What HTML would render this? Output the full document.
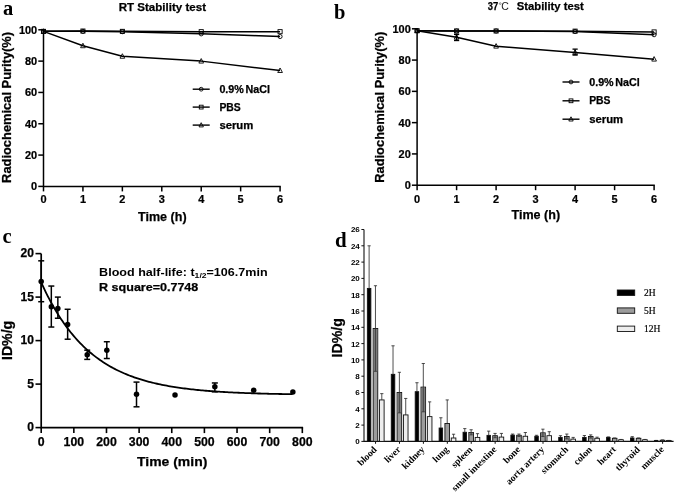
<!DOCTYPE html>
<html><head><meta charset="utf-8"><title>Stability and biodistribution</title>
<style>html,body{margin:0;padding:0;background:#fff;}body{width:675px;height:493px;overflow:hidden;font-family:"Liberation Sans",sans-serif;}svg text{white-space:pre;}</style>
</head><body>
<svg width="675" height="493" viewBox="0 0 675 493" style="display:block;filter:blur(0.35px)">
<rect width="675" height="493" fill="#fff"/>
<line x1="43.50" y1="29.80" x2="43.50" y2="187.10" stroke="#000" stroke-width="1.5" stroke-linecap="butt"/>
<line x1="43.50" y1="186.40" x2="280.78" y2="186.40" stroke="#000" stroke-width="1.5" stroke-linecap="butt"/>
<line x1="38.30" y1="186.40" x2="43.50" y2="186.40" stroke="#000" stroke-width="1.5" stroke-linecap="butt"/>
<text transform="translate(37.20,190.40) scale(0.93,1)" font-family='"Liberation Sans", sans-serif' font-size="11.8" font-weight="bold" text-anchor="end" fill="#000" stroke="#000" stroke-width="0.25" >0</text>
<line x1="38.30" y1="155.08" x2="43.50" y2="155.08" stroke="#000" stroke-width="1.5" stroke-linecap="butt"/>
<text transform="translate(37.20,159.08) scale(0.93,1)" font-family='"Liberation Sans", sans-serif' font-size="11.8" font-weight="bold" text-anchor="end" fill="#000" stroke="#000" stroke-width="0.25" >20</text>
<line x1="38.30" y1="123.76" x2="43.50" y2="123.76" stroke="#000" stroke-width="1.5" stroke-linecap="butt"/>
<text transform="translate(37.20,127.76) scale(0.93,1)" font-family='"Liberation Sans", sans-serif' font-size="11.8" font-weight="bold" text-anchor="end" fill="#000" stroke="#000" stroke-width="0.25" >40</text>
<line x1="38.30" y1="92.44" x2="43.50" y2="92.44" stroke="#000" stroke-width="1.5" stroke-linecap="butt"/>
<text transform="translate(37.20,96.44) scale(0.93,1)" font-family='"Liberation Sans", sans-serif' font-size="11.8" font-weight="bold" text-anchor="end" fill="#000" stroke="#000" stroke-width="0.25" >60</text>
<line x1="38.30" y1="61.12" x2="43.50" y2="61.12" stroke="#000" stroke-width="1.5" stroke-linecap="butt"/>
<text transform="translate(37.20,65.12) scale(0.93,1)" font-family='"Liberation Sans", sans-serif' font-size="11.8" font-weight="bold" text-anchor="end" fill="#000" stroke="#000" stroke-width="0.25" >80</text>
<line x1="38.30" y1="29.80" x2="43.50" y2="29.80" stroke="#000" stroke-width="1.5" stroke-linecap="butt"/>
<text transform="translate(37.20,33.80) scale(0.93,1)" font-family='"Liberation Sans", sans-serif' font-size="11.8" font-weight="bold" text-anchor="end" fill="#000" stroke="#000" stroke-width="0.25" >100</text>
<line x1="43.50" y1="186.40" x2="43.50" y2="191.40" stroke="#000" stroke-width="1.5" stroke-linecap="butt"/>
<text transform="translate(43.50,203.30) scale(0.93,1)" font-family='"Liberation Sans", sans-serif' font-size="11.8" font-weight="bold" text-anchor="middle" fill="#000" stroke="#000" stroke-width="0.25" >0</text>
<line x1="82.93" y1="186.40" x2="82.93" y2="191.40" stroke="#000" stroke-width="1.5" stroke-linecap="butt"/>
<text transform="translate(82.93,203.30) scale(0.93,1)" font-family='"Liberation Sans", sans-serif' font-size="11.8" font-weight="bold" text-anchor="middle" fill="#000" stroke="#000" stroke-width="0.25" >1</text>
<line x1="122.36" y1="186.40" x2="122.36" y2="191.40" stroke="#000" stroke-width="1.5" stroke-linecap="butt"/>
<text transform="translate(122.36,203.30) scale(0.93,1)" font-family='"Liberation Sans", sans-serif' font-size="11.8" font-weight="bold" text-anchor="middle" fill="#000" stroke="#000" stroke-width="0.25" >2</text>
<line x1="161.79" y1="186.40" x2="161.79" y2="191.40" stroke="#000" stroke-width="1.5" stroke-linecap="butt"/>
<text transform="translate(161.79,203.30) scale(0.93,1)" font-family='"Liberation Sans", sans-serif' font-size="11.8" font-weight="bold" text-anchor="middle" fill="#000" stroke="#000" stroke-width="0.25" >3</text>
<line x1="201.22" y1="186.40" x2="201.22" y2="191.40" stroke="#000" stroke-width="1.5" stroke-linecap="butt"/>
<text transform="translate(201.22,203.30) scale(0.93,1)" font-family='"Liberation Sans", sans-serif' font-size="11.8" font-weight="bold" text-anchor="middle" fill="#000" stroke="#000" stroke-width="0.25" >4</text>
<line x1="240.65" y1="186.40" x2="240.65" y2="191.40" stroke="#000" stroke-width="1.5" stroke-linecap="butt"/>
<text transform="translate(240.65,203.30) scale(0.93,1)" font-family='"Liberation Sans", sans-serif' font-size="11.8" font-weight="bold" text-anchor="middle" fill="#000" stroke="#000" stroke-width="0.25" >5</text>
<line x1="280.08" y1="186.40" x2="280.08" y2="191.40" stroke="#000" stroke-width="1.5" stroke-linecap="butt"/>
<text transform="translate(280.08,203.30) scale(0.93,1)" font-family='"Liberation Sans", sans-serif' font-size="11.8" font-weight="bold" text-anchor="middle" fill="#000" stroke="#000" stroke-width="0.25" >6</text>
<text x="162.30" y="220.60" font-family='"Liberation Sans", sans-serif' font-size="12.8" font-weight="bold" text-anchor="middle" fill="#000" stroke="#000" stroke-width="0.25" textLength="48.60" lengthAdjust="spacingAndGlyphs" >Time (h)</text>
<text transform="translate(10.6,107.4) rotate(-90)" font-family='"Liberation Sans", sans-serif' font-size="13" font-weight="bold" stroke="#000" stroke-width="0.25" text-anchor="middle" textLength="151" lengthAdjust="spacingAndGlyphs">Radiochemical Purity(%)</text>
<text x="118.70" y="10.60" font-family='"Liberation Sans", sans-serif' font-size="11.5" font-weight="bold" text-anchor="start" fill="#000" stroke="#000" stroke-width="0.25" textLength="87.30" lengthAdjust="spacingAndGlyphs" >RT Stability test</text>
<text x="3.00" y="14.50" font-family='"Liberation Serif", serif' font-size="20.5" font-weight="bold" text-anchor="start" fill="#000" >a</text>
<polyline points="43.50,31.37 82.93,31.37 122.36,31.68 201.22,33.87 280.08,36.53" fill="none" stroke="#000" stroke-width="1.5" stroke-linejoin="round"/>
<polyline points="43.50,31.37 82.93,31.05 122.36,31.37 201.22,31.68 280.08,31.68" fill="none" stroke="#000" stroke-width="1.5" stroke-linejoin="round"/>
<polyline points="43.50,31.37 82.93,45.77 122.36,56.27 201.22,61.12 280.08,70.52" fill="none" stroke="#000" stroke-width="1.5" stroke-linejoin="round"/>
<circle cx="43.50" cy="31.37" r="2.05" fill="none" stroke="#000" stroke-width="0.9"/>
<circle cx="82.93" cy="31.37" r="2.05" fill="none" stroke="#000" stroke-width="0.9"/>
<circle cx="122.36" cy="31.68" r="2.05" fill="none" stroke="#000" stroke-width="0.9"/>
<circle cx="201.22" cy="33.87" r="2.05" fill="none" stroke="#000" stroke-width="0.9"/>
<circle cx="280.08" cy="36.53" r="2.05" fill="none" stroke="#000" stroke-width="0.9"/>
<rect x="41.45" y="29.32" width="4.10" height="4.10" fill="none" stroke="#000" stroke-width="0.9"/>
<rect x="80.88" y="29.00" width="4.10" height="4.10" fill="none" stroke="#000" stroke-width="0.9"/>
<rect x="120.31" y="29.32" width="4.10" height="4.10" fill="none" stroke="#000" stroke-width="0.9"/>
<rect x="199.17" y="29.63" width="4.10" height="4.10" fill="none" stroke="#000" stroke-width="0.9"/>
<rect x="278.03" y="29.63" width="4.10" height="4.10" fill="none" stroke="#000" stroke-width="0.9"/>
<polygon points="43.50,28.82 41.15,33.32 45.85,33.32" fill="none" stroke="#000" stroke-width="0.9"/>
<polygon points="82.93,43.22 80.58,47.72 85.28,47.72" fill="none" stroke="#000" stroke-width="0.9"/>
<polygon points="122.36,53.72 120.01,58.22 124.71,58.22" fill="none" stroke="#000" stroke-width="0.9"/>
<polygon points="201.22,58.57 198.87,63.07 203.57,63.07" fill="none" stroke="#000" stroke-width="0.9"/>
<polygon points="280.08,67.97 277.73,72.47 282.43,72.47" fill="none" stroke="#000" stroke-width="0.9"/>
<line x1="192.70" y1="89.20" x2="209.70" y2="89.20" stroke="#000" stroke-width="1.4" stroke-linecap="butt"/>
<circle cx="201.20" cy="89.20" r="1.90" fill="none" stroke="#000" stroke-width="0.9"/>
<text x="219.40" y="92.80" font-family='"Liberation Sans", sans-serif' font-size="10" font-weight="bold" text-anchor="start" fill="#000" stroke="#000" stroke-width="0.25" textLength="50.60" lengthAdjust="spacingAndGlyphs" >0.9%<tspan dx="1.6">NaCl</tspan></text>
<line x1="192.70" y1="107.10" x2="209.70" y2="107.10" stroke="#000" stroke-width="1.4" stroke-linecap="butt"/>
<rect x="199.30" y="105.20" width="3.80" height="3.80" fill="none" stroke="#000" stroke-width="0.9"/>
<text x="219.40" y="110.70" font-family='"Liberation Sans", sans-serif' font-size="10" font-weight="bold" text-anchor="start" fill="#000" stroke="#000" stroke-width="0.25" textLength="21.30" lengthAdjust="spacingAndGlyphs" >PBS</text>
<line x1="192.70" y1="125.10" x2="209.70" y2="125.10" stroke="#000" stroke-width="1.4" stroke-linecap="butt"/>
<polygon points="201.20,122.70 199.00,126.90 203.40,126.90" fill="none" stroke="#000" stroke-width="0.9"/>
<text x="219.40" y="128.70" font-family='"Liberation Sans", sans-serif' font-size="10" font-weight="bold" text-anchor="start" fill="#000" stroke="#000" stroke-width="0.25" textLength="33.90" lengthAdjust="spacingAndGlyphs" >serum</text>
<line x1="417.10" y1="28.80" x2="417.10" y2="185.90" stroke="#000" stroke-width="1.5" stroke-linecap="butt"/>
<line x1="417.10" y1="185.20" x2="654.80" y2="185.20" stroke="#000" stroke-width="1.5" stroke-linecap="butt"/>
<line x1="411.90" y1="185.20" x2="417.10" y2="185.20" stroke="#000" stroke-width="1.5" stroke-linecap="butt"/>
<text transform="translate(410.80,189.20) scale(0.93,1)" font-family='"Liberation Sans", sans-serif' font-size="11.8" font-weight="bold" text-anchor="end" fill="#000" stroke="#000" stroke-width="0.25" >0</text>
<line x1="411.90" y1="153.92" x2="417.10" y2="153.92" stroke="#000" stroke-width="1.5" stroke-linecap="butt"/>
<text transform="translate(410.80,157.92) scale(0.93,1)" font-family='"Liberation Sans", sans-serif' font-size="11.8" font-weight="bold" text-anchor="end" fill="#000" stroke="#000" stroke-width="0.25" >20</text>
<line x1="411.90" y1="122.64" x2="417.10" y2="122.64" stroke="#000" stroke-width="1.5" stroke-linecap="butt"/>
<text transform="translate(410.80,126.64) scale(0.93,1)" font-family='"Liberation Sans", sans-serif' font-size="11.8" font-weight="bold" text-anchor="end" fill="#000" stroke="#000" stroke-width="0.25" >40</text>
<line x1="411.90" y1="91.36" x2="417.10" y2="91.36" stroke="#000" stroke-width="1.5" stroke-linecap="butt"/>
<text transform="translate(410.80,95.36) scale(0.93,1)" font-family='"Liberation Sans", sans-serif' font-size="11.8" font-weight="bold" text-anchor="end" fill="#000" stroke="#000" stroke-width="0.25" >60</text>
<line x1="411.90" y1="60.08" x2="417.10" y2="60.08" stroke="#000" stroke-width="1.5" stroke-linecap="butt"/>
<text transform="translate(410.80,64.08) scale(0.93,1)" font-family='"Liberation Sans", sans-serif' font-size="11.8" font-weight="bold" text-anchor="end" fill="#000" stroke="#000" stroke-width="0.25" >80</text>
<line x1="411.90" y1="28.80" x2="417.10" y2="28.80" stroke="#000" stroke-width="1.5" stroke-linecap="butt"/>
<text transform="translate(410.80,32.80) scale(0.93,1)" font-family='"Liberation Sans", sans-serif' font-size="11.8" font-weight="bold" text-anchor="end" fill="#000" stroke="#000" stroke-width="0.25" >100</text>
<line x1="417.10" y1="185.20" x2="417.10" y2="190.20" stroke="#000" stroke-width="1.5" stroke-linecap="butt"/>
<text transform="translate(417.10,202.80) scale(0.93,1)" font-family='"Liberation Sans", sans-serif' font-size="11.8" font-weight="bold" text-anchor="middle" fill="#000" stroke="#000" stroke-width="0.25" >0</text>
<line x1="456.60" y1="185.20" x2="456.60" y2="190.20" stroke="#000" stroke-width="1.5" stroke-linecap="butt"/>
<text transform="translate(456.60,202.80) scale(0.93,1)" font-family='"Liberation Sans", sans-serif' font-size="11.8" font-weight="bold" text-anchor="middle" fill="#000" stroke="#000" stroke-width="0.25" >1</text>
<line x1="496.10" y1="185.20" x2="496.10" y2="190.20" stroke="#000" stroke-width="1.5" stroke-linecap="butt"/>
<text transform="translate(496.10,202.80) scale(0.93,1)" font-family='"Liberation Sans", sans-serif' font-size="11.8" font-weight="bold" text-anchor="middle" fill="#000" stroke="#000" stroke-width="0.25" >2</text>
<line x1="535.60" y1="185.20" x2="535.60" y2="190.20" stroke="#000" stroke-width="1.5" stroke-linecap="butt"/>
<text transform="translate(535.60,202.80) scale(0.93,1)" font-family='"Liberation Sans", sans-serif' font-size="11.8" font-weight="bold" text-anchor="middle" fill="#000" stroke="#000" stroke-width="0.25" >3</text>
<line x1="575.10" y1="185.20" x2="575.10" y2="190.20" stroke="#000" stroke-width="1.5" stroke-linecap="butt"/>
<text transform="translate(575.10,202.80) scale(0.93,1)" font-family='"Liberation Sans", sans-serif' font-size="11.8" font-weight="bold" text-anchor="middle" fill="#000" stroke="#000" stroke-width="0.25" >4</text>
<line x1="614.60" y1="185.20" x2="614.60" y2="190.20" stroke="#000" stroke-width="1.5" stroke-linecap="butt"/>
<text transform="translate(614.60,202.80) scale(0.93,1)" font-family='"Liberation Sans", sans-serif' font-size="11.8" font-weight="bold" text-anchor="middle" fill="#000" stroke="#000" stroke-width="0.25" >5</text>
<line x1="654.10" y1="185.20" x2="654.10" y2="190.20" stroke="#000" stroke-width="1.5" stroke-linecap="butt"/>
<text transform="translate(654.10,202.80) scale(0.93,1)" font-family='"Liberation Sans", sans-serif' font-size="11.8" font-weight="bold" text-anchor="middle" fill="#000" stroke="#000" stroke-width="0.25" >6</text>
<text x="535.80" y="219.40" font-family='"Liberation Sans", sans-serif' font-size="12.8" font-weight="bold" text-anchor="middle" fill="#000" stroke="#000" stroke-width="0.25" textLength="48.60" lengthAdjust="spacingAndGlyphs" >Time (h)</text>
<text transform="translate(383.8,107.3) rotate(-90)" font-family='"Liberation Sans", sans-serif' font-size="13" font-weight="bold" stroke="#000" stroke-width="0.25" text-anchor="middle" textLength="151" lengthAdjust="spacingAndGlyphs">Radiochemical Purity(%)</text>
<text x="487.80" y="9.60" font-family='"Liberation Sans", sans-serif' font-size="11" font-weight="bold" text-anchor="start" fill="#000" stroke="#000" stroke-width="0.25" textLength="10.50" lengthAdjust="spacingAndGlyphs" >37</text>
<circle cx="500.2" cy="3.6" r="0.9" fill="none" stroke="#333" stroke-width="0.5"/>
<text x="501.20" y="9.50" font-family='"Liberation Sans", sans-serif' font-size="10.3" font-weight="normal" text-anchor="start" fill="#222" textLength="7.60" lengthAdjust="spacingAndGlyphs" >C</text>
<text x="516.70" y="9.60" font-family='"Liberation Sans", sans-serif' font-size="11.5" font-weight="bold" text-anchor="start" fill="#000" stroke="#000" stroke-width="0.25" textLength="67.10" lengthAdjust="spacingAndGlyphs" >Stability test</text>
<text x="334.00" y="18.70" font-family='"Liberation Serif", serif' font-size="20.5" font-weight="bold" text-anchor="start" fill="#000" >b</text>
<polyline points="417.10,30.68 456.60,30.99 496.10,30.99 575.10,31.46 654.10,34.74" fill="none" stroke="#000" stroke-width="1.5" stroke-linejoin="round"/>
<polyline points="417.10,30.68 456.60,30.99 496.10,30.99 575.10,31.15 654.10,31.93" fill="none" stroke="#000" stroke-width="1.5" stroke-linejoin="round"/>
<polyline points="417.10,30.68 456.60,37.25 496.10,46.16 575.10,52.42 654.10,59.14" fill="none" stroke="#000" stroke-width="1.5" stroke-linejoin="round"/>
<line x1="456.60" y1="34.43" x2="456.60" y2="40.53" stroke="#000" stroke-width="1.3" stroke-linecap="butt"/>
<line x1="454.00" y1="34.43" x2="459.20" y2="34.43" stroke="#000" stroke-width="1.3" stroke-linecap="butt"/>
<line x1="454.00" y1="40.53" x2="459.20" y2="40.53" stroke="#000" stroke-width="1.3" stroke-linecap="butt"/>
<line x1="575.10" y1="49.13" x2="575.10" y2="55.08" stroke="#000" stroke-width="1.3" stroke-linecap="butt"/>
<line x1="572.50" y1="49.13" x2="577.70" y2="49.13" stroke="#000" stroke-width="1.3" stroke-linecap="butt"/>
<line x1="572.50" y1="55.08" x2="577.70" y2="55.08" stroke="#000" stroke-width="1.3" stroke-linecap="butt"/>
<circle cx="417.10" cy="30.68" r="2.05" fill="none" stroke="#000" stroke-width="0.9"/>
<circle cx="456.60" cy="30.99" r="2.05" fill="none" stroke="#000" stroke-width="0.9"/>
<circle cx="496.10" cy="30.99" r="2.05" fill="none" stroke="#000" stroke-width="0.9"/>
<circle cx="575.10" cy="31.46" r="2.05" fill="none" stroke="#000" stroke-width="0.9"/>
<circle cx="654.10" cy="34.74" r="2.05" fill="none" stroke="#000" stroke-width="0.9"/>
<rect x="415.05" y="28.63" width="4.10" height="4.10" fill="none" stroke="#000" stroke-width="0.9"/>
<rect x="454.55" y="28.94" width="4.10" height="4.10" fill="none" stroke="#000" stroke-width="0.9"/>
<rect x="494.05" y="28.94" width="4.10" height="4.10" fill="none" stroke="#000" stroke-width="0.9"/>
<rect x="573.05" y="29.10" width="4.10" height="4.10" fill="none" stroke="#000" stroke-width="0.9"/>
<rect x="652.05" y="29.88" width="4.10" height="4.10" fill="none" stroke="#000" stroke-width="0.9"/>
<polygon points="417.10,28.13 414.75,32.63 419.45,32.63" fill="none" stroke="#000" stroke-width="0.9"/>
<polygon points="456.60,34.70 454.25,39.20 458.95,39.20" fill="none" stroke="#000" stroke-width="0.9"/>
<polygon points="496.10,43.61 493.75,48.11 498.45,48.11" fill="none" stroke="#000" stroke-width="0.9"/>
<polygon points="575.10,49.87 572.75,54.37 577.45,54.37" fill="none" stroke="#000" stroke-width="0.9"/>
<polygon points="654.10,56.59 651.75,61.09 656.45,61.09" fill="none" stroke="#000" stroke-width="0.9"/>
<line x1="562.50" y1="82.00" x2="579.50" y2="82.00" stroke="#000" stroke-width="1.4" stroke-linecap="butt"/>
<circle cx="571.00" cy="82.00" r="1.90" fill="none" stroke="#000" stroke-width="0.9"/>
<text x="589.20" y="85.60" font-family='"Liberation Sans", sans-serif' font-size="10" font-weight="bold" text-anchor="start" fill="#000" stroke="#000" stroke-width="0.25" textLength="50.60" lengthAdjust="spacingAndGlyphs" >0.9%<tspan dx="1.6">NaCl</tspan></text>
<line x1="562.50" y1="100.80" x2="579.50" y2="100.80" stroke="#000" stroke-width="1.4" stroke-linecap="butt"/>
<rect x="569.10" y="98.90" width="3.80" height="3.80" fill="none" stroke="#000" stroke-width="0.9"/>
<text x="589.20" y="104.40" font-family='"Liberation Sans", sans-serif' font-size="10" font-weight="bold" text-anchor="start" fill="#000" stroke="#000" stroke-width="0.25" textLength="21.30" lengthAdjust="spacingAndGlyphs" >PBS</text>
<line x1="562.50" y1="119.20" x2="579.50" y2="119.20" stroke="#000" stroke-width="1.4" stroke-linecap="butt"/>
<polygon points="571.00,116.80 568.80,121.00 573.20,121.00" fill="none" stroke="#000" stroke-width="0.9"/>
<text x="589.20" y="122.80" font-family='"Liberation Sans", sans-serif' font-size="10" font-weight="bold" text-anchor="start" fill="#000" stroke="#000" stroke-width="0.25" textLength="33.90" lengthAdjust="spacingAndGlyphs" >serum</text>
<line x1="41.20" y1="253.60" x2="41.20" y2="428.40" stroke="#000" stroke-width="1.7" stroke-linecap="butt"/>
<line x1="41.20" y1="427.60" x2="303.12" y2="427.60" stroke="#000" stroke-width="1.7" stroke-linecap="butt"/>
<line x1="35.50" y1="427.60" x2="41.20" y2="427.60" stroke="#000" stroke-width="1.6" stroke-linecap="butt"/>
<text x="33.90" y="431.40" font-family='"Liberation Sans", sans-serif' font-size="12" font-weight="bold" text-anchor="end" fill="#000" stroke="#000" stroke-width="0.25" >0</text>
<line x1="35.50" y1="384.10" x2="41.20" y2="384.10" stroke="#000" stroke-width="1.6" stroke-linecap="butt"/>
<text x="33.90" y="387.90" font-family='"Liberation Sans", sans-serif' font-size="12" font-weight="bold" text-anchor="end" fill="#000" stroke="#000" stroke-width="0.25" >5</text>
<line x1="35.50" y1="340.60" x2="41.20" y2="340.60" stroke="#000" stroke-width="1.6" stroke-linecap="butt"/>
<text x="33.90" y="344.40" font-family='"Liberation Sans", sans-serif' font-size="12" font-weight="bold" text-anchor="end" fill="#000" stroke="#000" stroke-width="0.25" >10</text>
<line x1="35.50" y1="297.10" x2="41.20" y2="297.10" stroke="#000" stroke-width="1.6" stroke-linecap="butt"/>
<text x="33.90" y="300.90" font-family='"Liberation Sans", sans-serif' font-size="12" font-weight="bold" text-anchor="end" fill="#000" stroke="#000" stroke-width="0.25" >15</text>
<line x1="35.50" y1="253.60" x2="41.20" y2="253.60" stroke="#000" stroke-width="1.6" stroke-linecap="butt"/>
<text x="33.90" y="257.40" font-family='"Liberation Sans", sans-serif' font-size="12" font-weight="bold" text-anchor="end" fill="#000" stroke="#000" stroke-width="0.25" >20</text>
<line x1="41.20" y1="427.60" x2="41.20" y2="433.10" stroke="#000" stroke-width="1.6" stroke-linecap="butt"/>
<text x="41.20" y="446.40" font-family='"Liberation Sans", sans-serif' font-size="12.3" font-weight="bold" text-anchor="middle" fill="#000" stroke="#000" stroke-width="0.25" >0</text>
<line x1="73.84" y1="427.60" x2="73.84" y2="433.10" stroke="#000" stroke-width="1.6" stroke-linecap="butt"/>
<text x="73.84" y="446.40" font-family='"Liberation Sans", sans-serif' font-size="12.3" font-weight="bold" text-anchor="middle" fill="#000" stroke="#000" stroke-width="0.25" >100</text>
<line x1="106.48" y1="427.60" x2="106.48" y2="433.10" stroke="#000" stroke-width="1.6" stroke-linecap="butt"/>
<text x="106.48" y="446.40" font-family='"Liberation Sans", sans-serif' font-size="12.3" font-weight="bold" text-anchor="middle" fill="#000" stroke="#000" stroke-width="0.25" >200</text>
<line x1="139.12" y1="427.60" x2="139.12" y2="433.10" stroke="#000" stroke-width="1.6" stroke-linecap="butt"/>
<text x="139.12" y="446.40" font-family='"Liberation Sans", sans-serif' font-size="12.3" font-weight="bold" text-anchor="middle" fill="#000" stroke="#000" stroke-width="0.25" >300</text>
<line x1="171.76" y1="427.60" x2="171.76" y2="433.10" stroke="#000" stroke-width="1.6" stroke-linecap="butt"/>
<text x="171.76" y="446.40" font-family='"Liberation Sans", sans-serif' font-size="12.3" font-weight="bold" text-anchor="middle" fill="#000" stroke="#000" stroke-width="0.25" >400</text>
<line x1="204.40" y1="427.60" x2="204.40" y2="433.10" stroke="#000" stroke-width="1.6" stroke-linecap="butt"/>
<text x="204.40" y="446.40" font-family='"Liberation Sans", sans-serif' font-size="12.3" font-weight="bold" text-anchor="middle" fill="#000" stroke="#000" stroke-width="0.25" >500</text>
<line x1="237.04" y1="427.60" x2="237.04" y2="433.10" stroke="#000" stroke-width="1.6" stroke-linecap="butt"/>
<text x="237.04" y="446.40" font-family='"Liberation Sans", sans-serif' font-size="12.3" font-weight="bold" text-anchor="middle" fill="#000" stroke="#000" stroke-width="0.25" >600</text>
<line x1="269.68" y1="427.60" x2="269.68" y2="433.10" stroke="#000" stroke-width="1.6" stroke-linecap="butt"/>
<text x="269.68" y="446.40" font-family='"Liberation Sans", sans-serif' font-size="12.3" font-weight="bold" text-anchor="middle" fill="#000" stroke="#000" stroke-width="0.25" >700</text>
<line x1="302.32" y1="427.60" x2="302.32" y2="433.10" stroke="#000" stroke-width="1.6" stroke-linecap="butt"/>
<text x="302.32" y="446.40" font-family='"Liberation Sans", sans-serif' font-size="12.3" font-weight="bold" text-anchor="middle" fill="#000" stroke="#000" stroke-width="0.25" >800</text>
<text x="172.20" y="466.20" font-family='"Liberation Sans", sans-serif' font-size="13.5" font-weight="bold" text-anchor="middle" fill="#000" stroke="#000" stroke-width="0.25" textLength="70.20" lengthAdjust="spacingAndGlyphs" >Time (min)</text>
<text transform="translate(12.2,340.4) rotate(-90)" font-family='"Liberation Sans", sans-serif' font-size="13.8" font-weight="bold" stroke="#000" stroke-width="0.25" text-anchor="middle" textLength="39.3" lengthAdjust="spacingAndGlyphs">ID%/g</text>
<text x="2.40" y="243.20" font-family='"Liberation Serif", serif' font-size="20.5" font-weight="bold" text-anchor="start" fill="#000" >c</text>
<polyline points="41.20,282.31 42.83,285.91 44.46,289.40 46.10,292.77 47.73,296.04 49.36,299.20 50.99,302.26 52.62,305.22 54.26,308.09 55.89,310.87 57.52,313.56 59.15,316.16 60.78,318.68 62.42,321.12 64.05,323.48 65.68,325.76 67.31,327.97 68.94,330.11 70.58,332.19 72.21,334.19 73.84,336.14 75.47,338.02 77.10,339.84 78.74,341.60 80.37,343.31 82.00,344.96 83.63,346.56 85.26,348.10 86.90,349.60 88.53,351.05 90.16,352.45 91.79,353.81 93.42,355.13 95.06,356.40 96.69,357.64 98.32,358.83 99.95,359.98 101.58,361.10 103.22,362.18 104.85,363.23 106.48,364.25 108.11,365.23 109.74,366.18 111.38,367.10 113.01,367.99 114.64,368.85 116.27,369.69 117.90,370.50 119.54,371.28 121.17,372.04 122.80,372.77 124.43,373.48 126.06,374.17 127.70,374.83 129.33,375.47 130.96,376.10 132.59,376.70 134.22,377.29 135.86,377.85 137.49,378.40 139.12,378.93 140.75,379.44 142.38,379.94 144.02,380.42 145.65,380.88 147.28,381.33 148.91,381.77 150.54,382.19 152.18,382.60 153.81,383.00 155.44,383.38 157.07,383.75 158.70,384.11 160.34,384.45 161.97,384.79 163.60,385.12 165.23,385.43 166.86,385.74 168.50,386.03 170.13,386.32 171.76,386.59 173.39,386.86 175.02,387.12 176.66,387.37 178.29,387.62 179.92,387.85 181.55,388.08 183.18,388.30 184.82,388.51 186.45,388.72 188.08,388.92 189.71,389.11 191.34,389.30 192.98,389.48 194.61,389.66 196.24,389.83 197.87,389.99 199.50,390.15 201.14,390.30 202.77,390.45 204.40,390.60 206.03,390.74 207.66,390.87 209.30,391.00 210.93,391.13 212.56,391.25 214.19,391.37 215.82,391.49 217.46,391.60 219.09,391.71 220.72,391.81 222.35,391.91 223.98,392.01 225.62,392.11 227.25,392.20 228.88,392.29 230.51,392.37 232.14,392.46 233.78,392.54 235.41,392.61 237.04,392.69 238.67,392.76 240.30,392.83 241.94,392.90 243.57,392.97 245.20,393.03 246.83,393.09 248.46,393.15 250.10,393.21 251.73,393.27 253.36,393.32 254.99,393.38 256.62,393.43 258.26,393.48 259.89,393.52 261.52,393.57 263.15,393.62 264.78,393.66 266.42,393.70 268.05,393.74 269.68,393.78 271.31,393.82 272.94,393.86 274.58,393.89 276.21,393.93 277.84,393.96 279.47,393.99 281.10,394.02 282.74,394.05 284.37,394.08 286.00,394.11 287.63,394.14 289.26,394.17 290.90,394.19 292.53,394.22" fill="none" stroke="#000" stroke-width="1.8"/>
<line x1="41.20" y1="260.82" x2="41.20" y2="301.71" stroke="#000" stroke-width="1.5" stroke-linecap="butt"/>
<line x1="38.20" y1="260.82" x2="44.20" y2="260.82" stroke="#000" stroke-width="1.5" stroke-linecap="butt"/>
<line x1="38.20" y1="301.71" x2="44.20" y2="301.71" stroke="#000" stroke-width="1.5" stroke-linecap="butt"/>
<line x1="51.32" y1="286.05" x2="51.32" y2="327.03" stroke="#000" stroke-width="1.5" stroke-linecap="butt"/>
<line x1="48.32" y1="286.05" x2="54.32" y2="286.05" stroke="#000" stroke-width="1.5" stroke-linecap="butt"/>
<line x1="48.32" y1="327.03" x2="54.32" y2="327.03" stroke="#000" stroke-width="1.5" stroke-linecap="butt"/>
<line x1="57.85" y1="297.10" x2="57.85" y2="318.24" stroke="#000" stroke-width="1.5" stroke-linecap="butt"/>
<line x1="54.85" y1="297.10" x2="60.85" y2="297.10" stroke="#000" stroke-width="1.5" stroke-linecap="butt"/>
<line x1="54.85" y1="318.24" x2="60.85" y2="318.24" stroke="#000" stroke-width="1.5" stroke-linecap="butt"/>
<line x1="67.64" y1="309.28" x2="67.64" y2="339.21" stroke="#000" stroke-width="1.5" stroke-linecap="butt"/>
<line x1="64.64" y1="309.28" x2="70.64" y2="309.28" stroke="#000" stroke-width="1.5" stroke-linecap="butt"/>
<line x1="64.64" y1="339.21" x2="70.64" y2="339.21" stroke="#000" stroke-width="1.5" stroke-linecap="butt"/>
<line x1="87.22" y1="350.17" x2="87.22" y2="359.39" stroke="#000" stroke-width="1.5" stroke-linecap="butt"/>
<line x1="84.22" y1="350.17" x2="90.22" y2="350.17" stroke="#000" stroke-width="1.5" stroke-linecap="butt"/>
<line x1="84.22" y1="359.39" x2="90.22" y2="359.39" stroke="#000" stroke-width="1.5" stroke-linecap="butt"/>
<line x1="106.81" y1="341.73" x2="106.81" y2="358.52" stroke="#000" stroke-width="1.5" stroke-linecap="butt"/>
<line x1="103.81" y1="341.73" x2="109.81" y2="341.73" stroke="#000" stroke-width="1.5" stroke-linecap="butt"/>
<line x1="103.81" y1="358.52" x2="109.81" y2="358.52" stroke="#000" stroke-width="1.5" stroke-linecap="butt"/>
<line x1="136.51" y1="382.10" x2="136.51" y2="406.81" stroke="#000" stroke-width="1.5" stroke-linecap="butt"/>
<line x1="133.51" y1="382.10" x2="139.51" y2="382.10" stroke="#000" stroke-width="1.5" stroke-linecap="butt"/>
<line x1="133.51" y1="406.81" x2="139.51" y2="406.81" stroke="#000" stroke-width="1.5" stroke-linecap="butt"/>
<line x1="214.84" y1="382.97" x2="214.84" y2="391.76" stroke="#000" stroke-width="1.5" stroke-linecap="butt"/>
<line x1="211.84" y1="382.97" x2="217.84" y2="382.97" stroke="#000" stroke-width="1.5" stroke-linecap="butt"/>
<line x1="211.84" y1="391.76" x2="217.84" y2="391.76" stroke="#000" stroke-width="1.5" stroke-linecap="butt"/>
<circle cx="41.20" cy="281.44" r="2.75" fill="#000"/>
<circle cx="51.32" cy="306.84" r="2.75" fill="#000"/>
<circle cx="57.85" cy="308.41" r="2.75" fill="#000"/>
<circle cx="67.64" cy="324.42" r="2.75" fill="#000"/>
<circle cx="87.22" cy="354.78" r="2.75" fill="#000"/>
<circle cx="106.81" cy="350.17" r="2.75" fill="#000"/>
<circle cx="136.51" cy="394.28" r="2.75" fill="#000"/>
<circle cx="175.02" cy="394.89" r="2.75" fill="#000"/>
<circle cx="214.84" cy="386.71" r="2.75" fill="#000"/>
<circle cx="253.69" cy="390.36" r="2.75" fill="#000"/>
<circle cx="292.85" cy="392.02" r="2.75" fill="#000"/>
<text x="99.1" y="275.9" font-family='"Liberation Sans", sans-serif' font-size="11" font-weight="bold" textLength="168.5" lengthAdjust="spacingAndGlyphs">Blood half-life: t<tspan font-size="7.5" dy="2.4">1/2</tspan><tspan dy="-2.4">=106.7min</tspan></text>
<text x="99.10" y="291.00" font-family='"Liberation Sans", sans-serif' font-size="11" font-weight="bold" text-anchor="start" fill="#000" stroke="#000" stroke-width="0.25" textLength="99.20" lengthAdjust="spacingAndGlyphs" >R square=0.7748</text>
<line x1="364.00" y1="229.50" x2="364.00" y2="441.90" stroke="#111" stroke-width="1.1" stroke-linecap="butt"/>
<line x1="364.00" y1="441.40" x2="673.60" y2="441.40" stroke="#111" stroke-width="1.1" stroke-linecap="butt"/>
<line x1="361.40" y1="441.40" x2="364.00" y2="441.40" stroke="#111" stroke-width="1.0" stroke-linecap="butt"/>
<text x="359.80" y="444.30" font-family='"Liberation Sans", sans-serif' font-size="8" font-weight="bold" text-anchor="end" fill="#000" >0</text>
<line x1="361.40" y1="425.10" x2="364.00" y2="425.10" stroke="#111" stroke-width="1.0" stroke-linecap="butt"/>
<text x="359.80" y="428.00" font-family='"Liberation Sans", sans-serif' font-size="8" font-weight="bold" text-anchor="end" fill="#000" >2</text>
<line x1="361.40" y1="408.80" x2="364.00" y2="408.80" stroke="#111" stroke-width="1.0" stroke-linecap="butt"/>
<text x="359.80" y="411.70" font-family='"Liberation Sans", sans-serif' font-size="8" font-weight="bold" text-anchor="end" fill="#000" >4</text>
<line x1="361.40" y1="392.50" x2="364.00" y2="392.50" stroke="#111" stroke-width="1.0" stroke-linecap="butt"/>
<text x="359.80" y="395.40" font-family='"Liberation Sans", sans-serif' font-size="8" font-weight="bold" text-anchor="end" fill="#000" >6</text>
<line x1="361.40" y1="376.20" x2="364.00" y2="376.20" stroke="#111" stroke-width="1.0" stroke-linecap="butt"/>
<text x="359.80" y="379.10" font-family='"Liberation Sans", sans-serif' font-size="8" font-weight="bold" text-anchor="end" fill="#000" >8</text>
<line x1="361.40" y1="359.90" x2="364.00" y2="359.90" stroke="#111" stroke-width="1.0" stroke-linecap="butt"/>
<text x="359.80" y="362.80" font-family='"Liberation Sans", sans-serif' font-size="8" font-weight="bold" text-anchor="end" fill="#000" >10</text>
<line x1="361.40" y1="343.60" x2="364.00" y2="343.60" stroke="#111" stroke-width="1.0" stroke-linecap="butt"/>
<text x="359.80" y="346.50" font-family='"Liberation Sans", sans-serif' font-size="8" font-weight="bold" text-anchor="end" fill="#000" >12</text>
<line x1="361.40" y1="327.30" x2="364.00" y2="327.30" stroke="#111" stroke-width="1.0" stroke-linecap="butt"/>
<text x="359.80" y="330.20" font-family='"Liberation Sans", sans-serif' font-size="8" font-weight="bold" text-anchor="end" fill="#000" >14</text>
<line x1="361.40" y1="311.00" x2="364.00" y2="311.00" stroke="#111" stroke-width="1.0" stroke-linecap="butt"/>
<text x="359.80" y="313.90" font-family='"Liberation Sans", sans-serif' font-size="8" font-weight="bold" text-anchor="end" fill="#000" >16</text>
<line x1="361.40" y1="294.70" x2="364.00" y2="294.70" stroke="#111" stroke-width="1.0" stroke-linecap="butt"/>
<text x="359.80" y="297.60" font-family='"Liberation Sans", sans-serif' font-size="8" font-weight="bold" text-anchor="end" fill="#000" >18</text>
<line x1="361.40" y1="278.40" x2="364.00" y2="278.40" stroke="#111" stroke-width="1.0" stroke-linecap="butt"/>
<text x="359.80" y="281.30" font-family='"Liberation Sans", sans-serif' font-size="8" font-weight="bold" text-anchor="end" fill="#000" >20</text>
<line x1="361.40" y1="262.10" x2="364.00" y2="262.10" stroke="#111" stroke-width="1.0" stroke-linecap="butt"/>
<text x="359.80" y="265.00" font-family='"Liberation Sans", sans-serif' font-size="8" font-weight="bold" text-anchor="end" fill="#000" >22</text>
<line x1="361.40" y1="245.80" x2="364.00" y2="245.80" stroke="#111" stroke-width="1.0" stroke-linecap="butt"/>
<text x="359.80" y="248.70" font-family='"Liberation Sans", sans-serif' font-size="8" font-weight="bold" text-anchor="end" fill="#000" >24</text>
<line x1="361.40" y1="229.50" x2="364.00" y2="229.50" stroke="#111" stroke-width="1.0" stroke-linecap="butt"/>
<text x="359.80" y="232.40" font-family='"Liberation Sans", sans-serif' font-size="8" font-weight="bold" text-anchor="end" fill="#000" >26</text>
<text transform="translate(342,337.8) rotate(-90)" font-family='"Liberation Sans", sans-serif' font-size="14.2" font-weight="bold" stroke="#000" stroke-width="0.25" text-anchor="middle" textLength="39.4" lengthAdjust="spacingAndGlyphs">ID%/g</text>
<text x="335.00" y="247.00" font-family='"Liberation Serif", serif' font-size="21" font-weight="bold" text-anchor="start" fill="#000" >d</text>
<line x1="375.56" y1="441.40" x2="375.56" y2="443.80" stroke="#111" stroke-width="1.0" stroke-linecap="butt"/>
<line x1="369.11" y1="245.80" x2="369.11" y2="288.42" stroke="#222" stroke-width="0.8" stroke-linecap="butt"/>
<line x1="367.51" y1="245.80" x2="370.71" y2="245.80" stroke="#222" stroke-width="0.8" stroke-linecap="butt"/>
<rect x="367.36" y="288.42" width="3.50" height="152.98" fill="#000" stroke="#111" stroke-width="0.9"/>
<line x1="375.46" y1="285.73" x2="375.46" y2="328.52" stroke="#222" stroke-width="0.8" stroke-linecap="butt"/>
<line x1="373.86" y1="285.73" x2="377.06" y2="285.73" stroke="#222" stroke-width="0.8" stroke-linecap="butt"/>
<rect x="373.16" y="328.52" width="4.60" height="112.88" fill="#9c9c9c" stroke="#111" stroke-width="0.9"/>
<rect x="373.61" y="328.97" width="3.70" height="42.34" fill="#7c7c7c"/>
<line x1="375.46" y1="328.52" x2="375.46" y2="371.31" stroke="#333" stroke-width="0.8" stroke-linecap="butt"/>
<line x1="373.86" y1="371.31" x2="377.06" y2="371.31" stroke="#333" stroke-width="0.8" stroke-linecap="butt"/>
<line x1="381.81" y1="393.64" x2="381.81" y2="399.92" stroke="#222" stroke-width="0.8" stroke-linecap="butt"/>
<line x1="380.21" y1="393.64" x2="383.41" y2="393.64" stroke="#222" stroke-width="0.8" stroke-linecap="butt"/>
<rect x="379.51" y="399.92" width="4.60" height="41.48" fill="#ededed" stroke="#111" stroke-width="0.9"/>
<text transform="translate(377.36,450.10) rotate(-45)" font-family='"Liberation Serif", serif' font-size="9.6" font-weight="bold" text-anchor="end">blood</text>
<line x1="399.48" y1="441.40" x2="399.48" y2="443.80" stroke="#111" stroke-width="1.0" stroke-linecap="butt"/>
<line x1="393.03" y1="345.80" x2="393.03" y2="374.33" stroke="#222" stroke-width="0.8" stroke-linecap="butt"/>
<line x1="391.43" y1="345.80" x2="394.63" y2="345.80" stroke="#222" stroke-width="0.8" stroke-linecap="butt"/>
<rect x="391.28" y="374.33" width="3.50" height="67.07" fill="#000" stroke="#111" stroke-width="0.9"/>
<line x1="399.38" y1="372.29" x2="399.38" y2="392.50" stroke="#222" stroke-width="0.8" stroke-linecap="butt"/>
<line x1="397.78" y1="372.29" x2="400.98" y2="372.29" stroke="#222" stroke-width="0.8" stroke-linecap="butt"/>
<rect x="397.08" y="392.50" width="4.60" height="48.90" fill="#9c9c9c" stroke="#111" stroke-width="0.9"/>
<rect x="397.53" y="392.95" width="3.70" height="19.93" fill="#7c7c7c"/>
<line x1="399.38" y1="392.50" x2="399.38" y2="412.88" stroke="#333" stroke-width="0.8" stroke-linecap="butt"/>
<line x1="397.78" y1="412.88" x2="400.98" y2="412.88" stroke="#333" stroke-width="0.8" stroke-linecap="butt"/>
<line x1="405.73" y1="398.45" x2="405.73" y2="414.91" stroke="#222" stroke-width="0.8" stroke-linecap="butt"/>
<line x1="404.13" y1="398.45" x2="407.33" y2="398.45" stroke="#222" stroke-width="0.8" stroke-linecap="butt"/>
<rect x="403.43" y="414.91" width="4.60" height="26.49" fill="#ededed" stroke="#111" stroke-width="0.9"/>
<text transform="translate(401.28,450.10) rotate(-45)" font-family='"Liberation Serif", serif' font-size="9.6" font-weight="bold" text-anchor="end">liver</text>
<line x1="423.40" y1="441.40" x2="423.40" y2="443.80" stroke="#111" stroke-width="1.0" stroke-linecap="butt"/>
<line x1="416.95" y1="382.72" x2="416.95" y2="391.69" stroke="#222" stroke-width="0.8" stroke-linecap="butt"/>
<line x1="415.35" y1="382.72" x2="418.55" y2="382.72" stroke="#222" stroke-width="0.8" stroke-linecap="butt"/>
<rect x="415.20" y="391.69" width="3.50" height="49.71" fill="#000" stroke="#111" stroke-width="0.9"/>
<line x1="423.30" y1="363.49" x2="423.30" y2="387.12" stroke="#222" stroke-width="0.8" stroke-linecap="butt"/>
<line x1="421.70" y1="363.49" x2="424.90" y2="363.49" stroke="#222" stroke-width="0.8" stroke-linecap="butt"/>
<rect x="421.00" y="387.12" width="4.60" height="54.28" fill="#9c9c9c" stroke="#111" stroke-width="0.9"/>
<rect x="421.45" y="387.57" width="3.70" height="24.24" fill="#7c7c7c"/>
<line x1="423.30" y1="387.12" x2="423.30" y2="411.82" stroke="#333" stroke-width="0.8" stroke-linecap="butt"/>
<line x1="421.70" y1="411.82" x2="424.90" y2="411.82" stroke="#333" stroke-width="0.8" stroke-linecap="butt"/>
<line x1="429.65" y1="401.87" x2="429.65" y2="416.62" stroke="#222" stroke-width="0.8" stroke-linecap="butt"/>
<line x1="428.05" y1="401.87" x2="431.25" y2="401.87" stroke="#222" stroke-width="0.8" stroke-linecap="butt"/>
<rect x="427.35" y="416.62" width="4.60" height="24.78" fill="#ededed" stroke="#111" stroke-width="0.9"/>
<text transform="translate(425.20,450.10) rotate(-45)" font-family='"Liberation Serif", serif' font-size="9.6" font-weight="bold" text-anchor="end">kidney</text>
<line x1="447.32" y1="441.40" x2="447.32" y2="443.80" stroke="#111" stroke-width="1.0" stroke-linecap="butt"/>
<line x1="440.87" y1="417.76" x2="440.87" y2="428.03" stroke="#222" stroke-width="0.8" stroke-linecap="butt"/>
<line x1="439.27" y1="417.76" x2="442.47" y2="417.76" stroke="#222" stroke-width="0.8" stroke-linecap="butt"/>
<rect x="439.12" y="428.03" width="3.50" height="13.37" fill="#000" stroke="#111" stroke-width="0.9"/>
<line x1="447.22" y1="399.92" x2="447.22" y2="423.47" stroke="#222" stroke-width="0.8" stroke-linecap="butt"/>
<line x1="445.62" y1="399.92" x2="448.82" y2="399.92" stroke="#222" stroke-width="0.8" stroke-linecap="butt"/>
<rect x="444.92" y="423.47" width="4.60" height="17.93" fill="#9c9c9c" stroke="#111" stroke-width="0.9"/>
<line x1="453.57" y1="434.23" x2="453.57" y2="437.98" stroke="#222" stroke-width="0.8" stroke-linecap="butt"/>
<line x1="451.97" y1="434.23" x2="455.17" y2="434.23" stroke="#222" stroke-width="0.8" stroke-linecap="butt"/>
<rect x="451.27" y="437.98" width="4.60" height="3.42" fill="#ededed" stroke="#111" stroke-width="0.9"/>
<text transform="translate(449.12,450.10) rotate(-45)" font-family='"Liberation Serif", serif' font-size="9.6" font-weight="bold" text-anchor="end">lung</text>
<line x1="471.24" y1="441.40" x2="471.24" y2="443.80" stroke="#111" stroke-width="1.0" stroke-linecap="butt"/>
<line x1="464.79" y1="428.60" x2="464.79" y2="432.27" stroke="#222" stroke-width="0.8" stroke-linecap="butt"/>
<line x1="463.19" y1="428.60" x2="466.39" y2="428.60" stroke="#222" stroke-width="0.8" stroke-linecap="butt"/>
<rect x="463.04" y="432.27" width="3.50" height="9.13" fill="#000" stroke="#111" stroke-width="0.9"/>
<line x1="471.14" y1="429.75" x2="471.14" y2="432.44" stroke="#222" stroke-width="0.8" stroke-linecap="butt"/>
<line x1="469.54" y1="429.75" x2="472.74" y2="429.75" stroke="#222" stroke-width="0.8" stroke-linecap="butt"/>
<rect x="468.84" y="432.44" width="4.60" height="8.96" fill="#9c9c9c" stroke="#111" stroke-width="0.9"/>
<rect x="469.29" y="432.88" width="3.70" height="1.99" fill="#7c7c7c"/>
<line x1="471.14" y1="432.44" x2="471.14" y2="434.88" stroke="#333" stroke-width="0.8" stroke-linecap="butt"/>
<line x1="469.54" y1="434.88" x2="472.74" y2="434.88" stroke="#333" stroke-width="0.8" stroke-linecap="butt"/>
<line x1="477.49" y1="433.66" x2="477.49" y2="437.41" stroke="#222" stroke-width="0.8" stroke-linecap="butt"/>
<line x1="475.89" y1="433.66" x2="479.09" y2="433.66" stroke="#222" stroke-width="0.8" stroke-linecap="butt"/>
<rect x="475.19" y="437.41" width="4.60" height="3.99" fill="#ededed" stroke="#111" stroke-width="0.9"/>
<text transform="translate(473.04,450.10) rotate(-45)" font-family='"Liberation Serif", serif' font-size="9.6" font-weight="bold" text-anchor="end">spleen</text>
<line x1="495.16" y1="441.40" x2="495.16" y2="443.80" stroke="#111" stroke-width="1.0" stroke-linecap="butt"/>
<line x1="488.71" y1="431.13" x2="488.71" y2="435.37" stroke="#222" stroke-width="0.8" stroke-linecap="butt"/>
<line x1="487.11" y1="431.13" x2="490.31" y2="431.13" stroke="#222" stroke-width="0.8" stroke-linecap="butt"/>
<rect x="486.96" y="435.37" width="3.50" height="6.03" fill="#000" stroke="#111" stroke-width="0.9"/>
<line x1="495.06" y1="433.41" x2="495.06" y2="435.69" stroke="#222" stroke-width="0.8" stroke-linecap="butt"/>
<line x1="493.46" y1="433.41" x2="496.66" y2="433.41" stroke="#222" stroke-width="0.8" stroke-linecap="butt"/>
<rect x="492.76" y="435.69" width="4.60" height="5.70" fill="#9c9c9c" stroke="#111" stroke-width="0.9"/>
<rect x="493.21" y="436.14" width="3.70" height="1.59" fill="#7c7c7c"/>
<line x1="495.06" y1="435.69" x2="495.06" y2="437.73" stroke="#333" stroke-width="0.8" stroke-linecap="butt"/>
<line x1="493.46" y1="437.73" x2="496.66" y2="437.73" stroke="#333" stroke-width="0.8" stroke-linecap="butt"/>
<line x1="501.41" y1="433.41" x2="501.41" y2="437.08" stroke="#222" stroke-width="0.8" stroke-linecap="butt"/>
<line x1="499.81" y1="433.41" x2="503.01" y2="433.41" stroke="#222" stroke-width="0.8" stroke-linecap="butt"/>
<rect x="499.11" y="437.08" width="4.60" height="4.32" fill="#ededed" stroke="#111" stroke-width="0.9"/>
<text transform="translate(496.96,450.10) rotate(-45)" font-family='"Liberation Serif", serif' font-size="9.6" font-weight="bold" text-anchor="end">small intestine</text>
<line x1="519.08" y1="441.40" x2="519.08" y2="443.80" stroke="#111" stroke-width="1.0" stroke-linecap="butt"/>
<line x1="512.63" y1="434.06" x2="512.63" y2="435.12" stroke="#222" stroke-width="0.8" stroke-linecap="butt"/>
<line x1="511.03" y1="434.06" x2="514.23" y2="434.06" stroke="#222" stroke-width="0.8" stroke-linecap="butt"/>
<rect x="510.88" y="435.12" width="3.50" height="6.28" fill="#000" stroke="#111" stroke-width="0.9"/>
<line x1="518.98" y1="434.06" x2="518.98" y2="435.29" stroke="#222" stroke-width="0.8" stroke-linecap="butt"/>
<line x1="517.38" y1="434.06" x2="520.58" y2="434.06" stroke="#222" stroke-width="0.8" stroke-linecap="butt"/>
<rect x="516.68" y="435.29" width="4.60" height="6.11" fill="#9c9c9c" stroke="#111" stroke-width="0.9"/>
<rect x="517.13" y="435.74" width="3.70" height="0.77" fill="#7c7c7c"/>
<line x1="518.98" y1="435.29" x2="518.98" y2="436.51" stroke="#333" stroke-width="0.8" stroke-linecap="butt"/>
<line x1="517.38" y1="436.51" x2="520.58" y2="436.51" stroke="#333" stroke-width="0.8" stroke-linecap="butt"/>
<line x1="525.33" y1="432.52" x2="525.33" y2="436.27" stroke="#222" stroke-width="0.8" stroke-linecap="butt"/>
<line x1="523.73" y1="432.52" x2="526.93" y2="432.52" stroke="#222" stroke-width="0.8" stroke-linecap="butt"/>
<rect x="523.03" y="436.27" width="4.60" height="5.13" fill="#ededed" stroke="#111" stroke-width="0.9"/>
<text transform="translate(520.88,450.10) rotate(-45)" font-family='"Liberation Serif", serif' font-size="9.6" font-weight="bold" text-anchor="end">bone</text>
<line x1="543.00" y1="441.40" x2="543.00" y2="443.80" stroke="#111" stroke-width="1.0" stroke-linecap="butt"/>
<line x1="536.55" y1="435.29" x2="536.55" y2="436.27" stroke="#222" stroke-width="0.8" stroke-linecap="butt"/>
<line x1="534.95" y1="435.29" x2="538.15" y2="435.29" stroke="#222" stroke-width="0.8" stroke-linecap="butt"/>
<rect x="534.80" y="436.27" width="3.50" height="5.13" fill="#000" stroke="#111" stroke-width="0.9"/>
<line x1="542.90" y1="429.17" x2="542.90" y2="432.84" stroke="#222" stroke-width="0.8" stroke-linecap="butt"/>
<line x1="541.30" y1="429.17" x2="544.50" y2="429.17" stroke="#222" stroke-width="0.8" stroke-linecap="butt"/>
<rect x="540.60" y="432.84" width="4.60" height="8.56" fill="#9c9c9c" stroke="#111" stroke-width="0.9"/>
<rect x="541.05" y="433.29" width="3.70" height="3.22" fill="#7c7c7c"/>
<line x1="542.90" y1="432.84" x2="542.90" y2="436.51" stroke="#333" stroke-width="0.8" stroke-linecap="butt"/>
<line x1="541.30" y1="436.51" x2="544.50" y2="436.51" stroke="#333" stroke-width="0.8" stroke-linecap="butt"/>
<line x1="549.25" y1="431.70" x2="549.25" y2="435.69" stroke="#222" stroke-width="0.8" stroke-linecap="butt"/>
<line x1="547.65" y1="431.70" x2="550.85" y2="431.70" stroke="#222" stroke-width="0.8" stroke-linecap="butt"/>
<rect x="546.95" y="435.69" width="4.60" height="5.70" fill="#ededed" stroke="#111" stroke-width="0.9"/>
<text transform="translate(544.80,450.10) rotate(-45)" font-family='"Liberation Serif", serif' font-size="9.6" font-weight="bold" text-anchor="end">aorta artery</text>
<line x1="566.92" y1="441.40" x2="566.92" y2="443.80" stroke="#111" stroke-width="1.0" stroke-linecap="butt"/>
<line x1="560.47" y1="435.69" x2="560.47" y2="437.41" stroke="#222" stroke-width="0.8" stroke-linecap="butt"/>
<line x1="558.87" y1="435.69" x2="562.07" y2="435.69" stroke="#222" stroke-width="0.8" stroke-linecap="butt"/>
<rect x="558.72" y="437.41" width="3.50" height="3.99" fill="#000" stroke="#111" stroke-width="0.9"/>
<line x1="566.82" y1="434.06" x2="566.82" y2="436.51" stroke="#222" stroke-width="0.8" stroke-linecap="butt"/>
<line x1="565.22" y1="434.06" x2="568.42" y2="434.06" stroke="#222" stroke-width="0.8" stroke-linecap="butt"/>
<rect x="564.52" y="436.51" width="4.60" height="4.89" fill="#9c9c9c" stroke="#111" stroke-width="0.9"/>
<rect x="564.97" y="436.96" width="3.70" height="1.99" fill="#7c7c7c"/>
<line x1="566.82" y1="436.51" x2="566.82" y2="438.95" stroke="#333" stroke-width="0.8" stroke-linecap="butt"/>
<line x1="565.22" y1="438.95" x2="568.42" y2="438.95" stroke="#333" stroke-width="0.8" stroke-linecap="butt"/>
<line x1="573.17" y1="437.41" x2="573.17" y2="439.12" stroke="#222" stroke-width="0.8" stroke-linecap="butt"/>
<line x1="571.57" y1="437.41" x2="574.77" y2="437.41" stroke="#222" stroke-width="0.8" stroke-linecap="butt"/>
<rect x="570.87" y="439.12" width="4.60" height="2.28" fill="#ededed" stroke="#111" stroke-width="0.9"/>
<text transform="translate(568.72,450.10) rotate(-45)" font-family='"Liberation Serif", serif' font-size="9.6" font-weight="bold" text-anchor="end">stomach</text>
<line x1="590.84" y1="441.40" x2="590.84" y2="443.80" stroke="#111" stroke-width="1.0" stroke-linecap="butt"/>
<line x1="584.39" y1="435.53" x2="584.39" y2="437.41" stroke="#222" stroke-width="0.8" stroke-linecap="butt"/>
<line x1="582.79" y1="435.53" x2="585.99" y2="435.53" stroke="#222" stroke-width="0.8" stroke-linecap="butt"/>
<rect x="582.64" y="437.41" width="3.50" height="3.99" fill="#000" stroke="#111" stroke-width="0.9"/>
<line x1="590.74" y1="434.88" x2="590.74" y2="436.51" stroke="#222" stroke-width="0.8" stroke-linecap="butt"/>
<line x1="589.14" y1="434.88" x2="592.34" y2="434.88" stroke="#222" stroke-width="0.8" stroke-linecap="butt"/>
<rect x="588.44" y="436.51" width="4.60" height="4.89" fill="#9c9c9c" stroke="#111" stroke-width="0.9"/>
<rect x="588.89" y="436.96" width="3.70" height="1.18" fill="#7c7c7c"/>
<line x1="590.74" y1="436.51" x2="590.74" y2="438.14" stroke="#333" stroke-width="0.8" stroke-linecap="butt"/>
<line x1="589.14" y1="438.14" x2="592.34" y2="438.14" stroke="#333" stroke-width="0.8" stroke-linecap="butt"/>
<line x1="597.09" y1="437.16" x2="597.09" y2="438.30" stroke="#222" stroke-width="0.8" stroke-linecap="butt"/>
<line x1="595.49" y1="437.16" x2="598.69" y2="437.16" stroke="#222" stroke-width="0.8" stroke-linecap="butt"/>
<rect x="594.79" y="438.30" width="4.60" height="3.10" fill="#ededed" stroke="#111" stroke-width="0.9"/>
<text transform="translate(592.64,450.10) rotate(-45)" font-family='"Liberation Serif", serif' font-size="9.6" font-weight="bold" text-anchor="end">colon</text>
<line x1="614.76" y1="441.40" x2="614.76" y2="443.80" stroke="#111" stroke-width="1.0" stroke-linecap="butt"/>
<line x1="608.31" y1="436.92" x2="608.31" y2="437.41" stroke="#222" stroke-width="0.8" stroke-linecap="butt"/>
<line x1="606.71" y1="436.92" x2="609.91" y2="436.92" stroke="#222" stroke-width="0.8" stroke-linecap="butt"/>
<rect x="606.56" y="437.41" width="3.50" height="3.99" fill="#000" stroke="#111" stroke-width="0.9"/>
<line x1="614.66" y1="437.98" x2="614.66" y2="438.30" stroke="#222" stroke-width="0.8" stroke-linecap="butt"/>
<line x1="613.06" y1="437.98" x2="616.26" y2="437.98" stroke="#222" stroke-width="0.8" stroke-linecap="butt"/>
<rect x="612.36" y="438.30" width="4.60" height="3.10" fill="#9c9c9c" stroke="#111" stroke-width="0.9"/>
<line x1="621.01" y1="439.44" x2="621.01" y2="439.77" stroke="#222" stroke-width="0.8" stroke-linecap="butt"/>
<line x1="619.41" y1="439.44" x2="622.61" y2="439.44" stroke="#222" stroke-width="0.8" stroke-linecap="butt"/>
<rect x="618.71" y="439.77" width="4.60" height="1.63" fill="#ededed" stroke="#111" stroke-width="0.9"/>
<text transform="translate(616.56,450.10) rotate(-45)" font-family='"Liberation Serif", serif' font-size="9.6" font-weight="bold" text-anchor="end">heart</text>
<line x1="638.68" y1="441.40" x2="638.68" y2="443.80" stroke="#111" stroke-width="1.0" stroke-linecap="butt"/>
<line x1="632.23" y1="436.67" x2="632.23" y2="437.98" stroke="#222" stroke-width="0.8" stroke-linecap="butt"/>
<line x1="630.63" y1="436.67" x2="633.83" y2="436.67" stroke="#222" stroke-width="0.8" stroke-linecap="butt"/>
<rect x="630.48" y="437.98" width="3.50" height="3.42" fill="#000" stroke="#111" stroke-width="0.9"/>
<line x1="638.58" y1="437.98" x2="638.58" y2="438.30" stroke="#222" stroke-width="0.8" stroke-linecap="butt"/>
<line x1="636.98" y1="437.98" x2="640.18" y2="437.98" stroke="#222" stroke-width="0.8" stroke-linecap="butt"/>
<rect x="636.28" y="438.30" width="4.60" height="3.10" fill="#9c9c9c" stroke="#111" stroke-width="0.9"/>
<line x1="644.93" y1="439.44" x2="644.93" y2="439.77" stroke="#222" stroke-width="0.8" stroke-linecap="butt"/>
<line x1="643.33" y1="439.44" x2="646.53" y2="439.44" stroke="#222" stroke-width="0.8" stroke-linecap="butt"/>
<rect x="642.63" y="439.77" width="4.60" height="1.63" fill="#ededed" stroke="#111" stroke-width="0.9"/>
<text transform="translate(640.48,450.10) rotate(-45)" font-family='"Liberation Serif", serif' font-size="9.6" font-weight="bold" text-anchor="end">thyroid</text>
<line x1="662.60" y1="441.40" x2="662.60" y2="443.80" stroke="#111" stroke-width="1.0" stroke-linecap="butt"/>
<line x1="656.15" y1="440.42" x2="656.15" y2="440.58" stroke="#222" stroke-width="0.8" stroke-linecap="butt"/>
<line x1="654.55" y1="440.42" x2="657.75" y2="440.42" stroke="#222" stroke-width="0.8" stroke-linecap="butt"/>
<rect x="654.40" y="440.58" width="3.50" height="0.81" fill="#000" stroke="#111" stroke-width="0.9"/>
<line x1="662.50" y1="439.93" x2="662.50" y2="440.26" stroke="#222" stroke-width="0.8" stroke-linecap="butt"/>
<line x1="660.90" y1="439.93" x2="664.10" y2="439.93" stroke="#222" stroke-width="0.8" stroke-linecap="butt"/>
<rect x="660.20" y="440.26" width="4.60" height="1.14" fill="#9c9c9c" stroke="#111" stroke-width="0.9"/>
<line x1="668.85" y1="440.42" x2="668.85" y2="440.58" stroke="#222" stroke-width="0.8" stroke-linecap="butt"/>
<line x1="667.25" y1="440.42" x2="670.45" y2="440.42" stroke="#222" stroke-width="0.8" stroke-linecap="butt"/>
<rect x="666.55" y="440.58" width="4.60" height="0.81" fill="#ededed" stroke="#111" stroke-width="0.9"/>
<text transform="translate(664.40,450.10) rotate(-45)" font-family='"Liberation Serif", serif' font-size="9.6" font-weight="bold" text-anchor="end">muscle</text>
<rect x="617.3" y="290.00" width="17.4" height="5.4" fill="#000" stroke="#111" stroke-width="0.9"/>
<text x="643.90" y="296.00" font-family='"Liberation Serif", serif' font-size="9.5" font-weight="normal" text-anchor="start" fill="#000" stroke="#000" stroke-width="0.2">2H</text>
<rect x="617.3" y="307.90" width="17.4" height="5.4" fill="#9c9c9c" stroke="#111" stroke-width="0.9"/>
<text x="643.90" y="313.90" font-family='"Liberation Serif", serif' font-size="9.5" font-weight="normal" text-anchor="start" fill="#000" stroke="#000" stroke-width="0.2">5H</text>
<rect x="617.3" y="326.10" width="17.4" height="5.4" fill="#ededed" stroke="#111" stroke-width="0.9"/>
<text x="643.90" y="332.10" font-family='"Liberation Serif", serif' font-size="9.5" font-weight="normal" text-anchor="start" fill="#000" stroke="#000" stroke-width="0.2">12H</text>
</svg>
</body></html>
